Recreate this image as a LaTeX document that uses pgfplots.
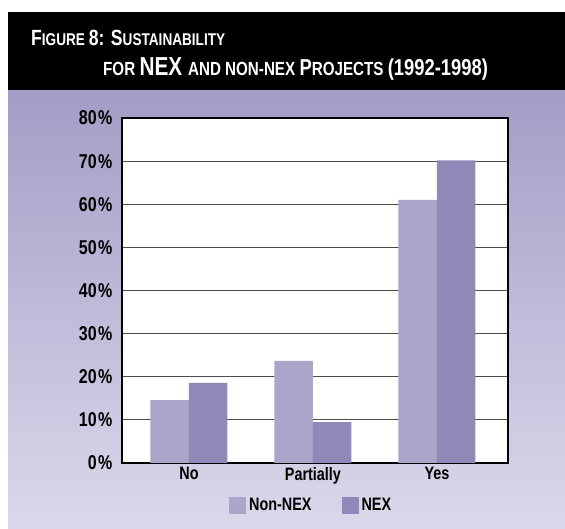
\documentclass[border=0pt]{standalone}
\usepackage{pgfplots}
\pgfplotsset{compat=1.18}
\usepackage{fontspec}
\setmainfont{Liberation Sans}[FakeStretch=0.8]
\definecolor{nonnex}{RGB}{170,165,201}
\definecolor{nex}{RGB}{142,137,183}
\definecolor{bgtop}{RGB}{163,157,198}
\definecolor{bgbot}{RGB}{219,216,235}
\begin{document}
\begin{tikzpicture}[x=1pt,y=1pt]
\path[use as bounding box] (0,0) rectangle (565,529);
\fill[white] (0,0) rectangle (565,529);
\shade[top color=bgtop, bottom color=bgbot] (8,0) rectangle (565,439);
\fill[black] (8,439) rectangle (565,517);
\node[anchor=base west, text=white, inner sep=0pt] at (31,483)
  {\bfseries\fontsize{22}{26}\selectfont F\fontsize{17}{20}\selectfont IGURE \fontsize{22}{26}\selectfont 8: S\fontsize{17}{20}\selectfont USTAINABILITY};
\node[anchor=base west, text=white, inner sep=0pt] at (103,453)
  {\bfseries\fontsize{19}{22}\selectfont FOR \fontsize{26}{29}\selectfont NEX \fontsize{19}{22}\selectfont AND NON-NEX \fontsize{23}{26}\selectfont P\fontsize{19}{22}\selectfont ROJECTS \fontsize{23}{26}\selectfont (1992-1998)};
\begin{axis}[
  at={(122pt,66pt)}, anchor=south west,
  scale only axis, width=386pt, height=345pt,
  ybar=0pt, bar width=38.5pt,
  xmin=-0.54, xmax=2.573,
  ymin=0, ymax=80,
  xtick={0,1,2}, xticklabels={No,Partially,Yes},
  ytick={0,10,...,80},
  yticklabel={\pgfmathprintnumber{\tick}\kern1.5pt\%},
  /pgf/number format/assume math mode=true,
  major tick length=0pt,
  ymajorgrids, major grid style={line width=0.8pt, black!70},
  axis line style={line width=2.2pt, black},
  axis background/.style={fill=white},
  tick label style={font=\bfseries\fontsize{20}{24}\selectfont},
  yticklabel style={xshift=-6pt},
  xticklabel style={yshift=-1pt, font=\bfseries\fontsize{18}{22}\selectfont},
  legend style={at={(0.49,-0.122)}, anchor=center, draw=none, fill=none,
    legend columns=2, font=\bfseries\fontsize{18}{22}\selectfont,
    /tikz/every even column/.append style={column sep=28pt},
    /tikz/every odd column/.append style={column sep=1pt}},
  legend image code/.code={\fill[#1] (0pt,-8.5pt) rectangle (17pt,8.5pt);},
  clip=false,
]
\addplot[draw=none, fill=nonnex] coordinates {(0,14.6) (1,23.7) (2,61.0)};
\addplot[draw=none, fill=nex] coordinates {(0,18.6) (1,9.5) (2,70.2)};
\legend{Non-NEX, NEX}
\end{axis}
\end{tikzpicture}
\end{document}
